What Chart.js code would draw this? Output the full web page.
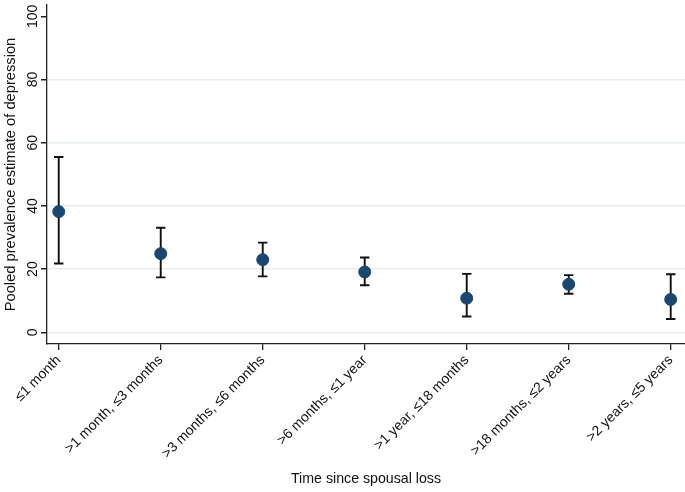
<!DOCTYPE html>
<html>
<head>
<meta charset="utf-8">
<script src="https://cdn.jsdelivr.net/npm/chart.js@4"></script>
<style>
  html, body { margin: 0; padding: 0; background: #fff; }
  #wrap { width: 685px; height: 492px; }
</style>
</head>
<body>
<div id="wrap"><canvas id="myChart" width="685" height="492"></canvas></div>
<script>
const categories = ['≤1 month', '>1 month, ≤3 months', '>3 months, ≤6 months', '>6 months, ≤1 year',
                    '>1 year, ≤18 months', '>18 months, ≤2 years', '>2 years, ≤5 years'];
const estimate = [38.2, 24.9, 23.0, 19.1, 10.8, 15.2, 10.4];
const lower    = [21.8, 17.4, 17.7, 14.9, 5.0, 12.2, 4.2];
const upper    = [55.5, 33.1, 28.4, 23.7, 18.5, 18.1, 18.4];
const yTicks   = [0, 20, 40, 60, 80, 100];

const FONT = "'Liberation Sans', Arial, Helvetica, sans-serif";

// error bars + rotated y tick labels
const errorBars = {
  id: 'errorBars',
  beforeDatasetsDraw(chart) {
    const ctx = chart.ctx, xs = chart.scales.x, ys = chart.scales.y;
    ctx.save();
    ctx.strokeStyle = '#111';
    ctx.lineWidth = 1.9;
    for (let i = 0; i < estimate.length; i++) {
      const px = xs.getPixelForValue(i);
      const lo = ys.getPixelForValue(lower[i]);
      const hi = ys.getPixelForValue(upper[i]);
      ctx.beginPath();
      ctx.moveTo(px, lo); ctx.lineTo(px, hi);
      ctx.moveTo(px - 4.7, lo); ctx.lineTo(px + 4.7, lo);
      ctx.moveTo(px - 4.7, hi); ctx.lineTo(px + 4.7, hi);
      ctx.stroke();
    }
    ctx.restore();
  },
  afterDraw(chart) {
    const ctx = chart.ctx, ys = chart.scales.y;
    ctx.save();
    ctx.fillStyle = '#111';
    ctx.font = '14px ' + FONT;
    ctx.textAlign = 'center';
    ctx.textBaseline = 'middle';
    yTicks.forEach(v => {
      ctx.save();
      ctx.translate(33, ys.getPixelForValue(v));
      ctx.rotate(-Math.PI / 2);
      ctx.fillText(String(v), 0, 0);
      ctx.restore();
    });
    ctx.restore();
  }
};

const ctx = document.getElementById('myChart').getContext('2d');
const myChart = new Chart(ctx, {
  type: 'scatter',
  data: {
    datasets: [{
      label: 'Pooled estimate',
      data: estimate.map((v, i) => ({ x: i, y: v })),
      backgroundColor: '#1a476f',
      borderColor: '#1a476f',
      pointRadius: 6,
      pointHoverRadius: 6
    }]
  },
  options: {
    responsive: false,
    animation: false,
    layout: { autoPadding: false, padding: { top: 5, right: 0, bottom: 4, left: 0 } },
    plugins: { legend: { display: false }, tooltip: { enabled: false } },
    scales: {
      x: {
        type: 'linear',
        min: -0.115,
        max: 6.14,
        afterBuildTicks: s => { s.ticks = categories.map((c, i) => ({ value: i })); },
        afterFit: s => { s.height = 144; s.paddingLeft = 0; s.paddingRight = 0; },
        ticks: {
          callback: (v) => categories[v],
          minRotation: 45,
          maxRotation: 45,
          autoSkip: false,
          color: '#111',
          padding: 2,
          font: { family: FONT, size: 14 }
        },
        grid: { drawOnChartArea: false, tickLength: 6, tickColor: '#222', lineWidth: 1.3 },
        border: { color: '#222', width: 1.3 },
        title: {
          display: true,
          text: 'Time since spousal loss',
          color: '#111',
          font: { family: FONT, size: 14.2 },
          padding: { top: 0, bottom: 0 }
        }
      },
      y: {
        min: -3.7,
        max: 103.6,
        afterBuildTicks: s => { s.ticks = yTicks.map(v => ({ value: v })); },
        afterFit: s => { s.width = 47; s.paddingTop = 0; s.paddingBottom = 0; },
        ticks: { color: 'rgba(0,0,0,0)', font: { family: FONT, size: 14 } },
        grid: {
          color: c => (c.tick && c.tick.value === 100) ? 'rgba(0,0,0,0)' : '#e6eef1',
          lineWidth: 1.5, tickLength: 6, tickColor: '#222'
        },
        border: { color: '#222', width: 1.3 },
        title: {
          display: true,
          text: 'Pooled prevalence estimate of depression',
          color: '#111',
          font: { family: FONT, size: 14.7 },
          padding: { top: 2, bottom: 0 }
        }
      }
    }
  },
  plugins: [errorBars]
});
</script>
</body>
</html>
